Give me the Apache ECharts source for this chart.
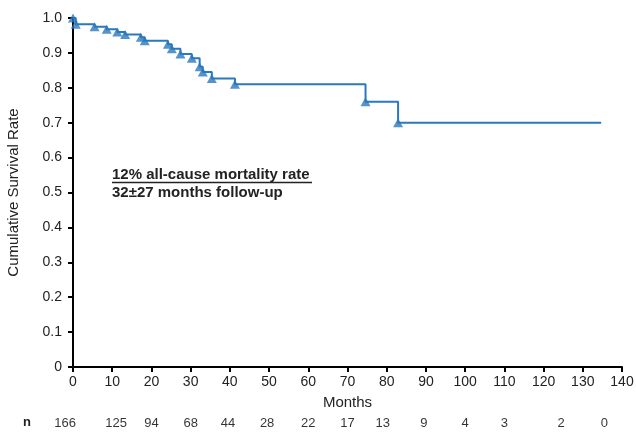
<!DOCTYPE html>
<html>
<head>
<meta charset="utf-8">
<script src="https://cdn.jsdelivr.net/npm/echarts@6/dist/echarts.min.js"></script>
<style>
  html, body { margin: 0; padding: 0; background: #fff; }
  #main { width: 636px; height: 434px; }
</style>
</head>
<body>
<div id="main"></div>
<script>
  /* survival curve: month of each step and survival after it */
  var stepMonths = [0, 0.7, 5.5, 8.6, 11.3, 13.3, 17.3, 18.3, 24.2, 25.2, 27.4, 30.3, 32.3, 33.1, 35.4, 41.3, 74.6, 82.9];
  var stepSurvival = [1.0, 0.982, 0.975, 0.968, 0.960, 0.953, 0.945, 0.935, 0.925, 0.912, 0.897, 0.885, 0.860, 0.845, 0.827, 0.810, 0.760, 0.700];
  var lastMonth = 134.7;

  /* number at risk */
  var riskMonths = [-2, 11, 20, 30, 39.5, 49.5, 60, 70, 79, 89.5, 100, 110, 124.5, 135.5];
  var riskCounts = [166, 125, 94, 68, 44, 28, 22, 17, 13, 9, 4, 3, 2, 0];

  var blue = '#2a78bd';
  var font = '"Liberation Sans", Arial, sans-serif';

  var lineData = stepMonths.map(function (m, i) { return [m, stepSurvival[i]]; });
  lineData.push([lastMonth, stepSurvival[stepSurvival.length - 1]]);
  var markData = stepMonths.map(function (m, i) { return [m, stepSurvival[i]]; });
  var riskData = riskMonths.map(function (m, i) { return [m, 0.5, riskCounts[i]]; });

  var chart = echarts.init(document.getElementById('main'));
  var option = {
    animation: false,
    grid: [
      { left: 73, right: 14, top: 18, bottom: 67, containLabel: false, outerBoundsMode: 'none' },
      { left: 73, right: 14, top: 418, height: 10, containLabel: false, outerBoundsMode: 'none' }
    ],
    xAxis: [{
      type: 'value',
      min: 0,
      max: 140,
      interval: 10,
      name: 'Months',
      nameLocation: 'middle',
      nameGap: 28,
      nameTextStyle: { fontFamily: font, fontSize: 15, color: '#222' },
      axisLine: { lineStyle: { color: '#000', width: 2 } },
      axisTick: { length: 5, lineStyle: { color: '#000', width: 2 } },
      axisLabel: { fontFamily: font, fontSize: 14, color: '#222', margin: 8 },
      splitLine: { show: false }
    }, {
      gridIndex: 1,
      type: 'value',
      min: 0,
      max: 140,
      show: false
    }],
    yAxis: [{
      type: 'value',
      min: 0,
      max: 1,
      interval: 0.1,
      name: 'Cumulative Survival Rate',
      nameLocation: 'middle',
      nameGap: 52,
      nameTextStyle: { fontFamily: font, fontSize: 15, color: '#222' },
      axisLine: { show: true, lineStyle: { color: '#000', width: 2 } },
      axisTick: { show: true, length: 5, lineStyle: { color: '#000', width: 2 } },
      axisLabel: {
        fontFamily: font, fontSize: 14, color: '#222', margin: 11,
        formatter: function (v) { return v === 0 ? '0' : v.toFixed(1); }
      },
      splitLine: { show: false }
    }, {
      gridIndex: 1,
      type: 'value',
      min: 0,
      max: 1,
      show: false
    }],
    series: [{
      type: 'line',
      step: 'end',
      data: lineData,
      symbol: 'none',
      lineStyle: { color: blue, width: 2 },
      z: 2
    }, {
      type: 'scatter',
      data: markData,
      symbol: 'triangle',
      symbolSize: [10, 9],
      itemStyle: { color: blue },
      clip: false,
      z: 3
    }, {
      type: 'scatter',
      xAxisIndex: 1,
      yAxisIndex: 1,
      data: riskData,
      symbol: 'circle',
      symbolSize: 1,
      itemStyle: { color: 'transparent' },
      clip: false,
      label: {
        show: true,
        position: 'inside',
        fontFamily: font,
        fontSize: 13,
        color: '#000',
        textBorderWidth: 0,
        formatter: function (p) { return String(p.value[2]); }
      }
    }],
    graphic: [{
      type: 'text',
      style: { x: 23, y: 416, text: 'n', font: 'bold 13px ' + font, fill: '#222', verticalAlign: 'top' }
    }, {
      type: 'text',
      style: { x: 112, y: 167.5, text: '12% all-cause mortality rate', font: 'bold 15px ' + font, fill: '#222', verticalAlign: 'top' }
    }, {
      type: 'line',
      shape: { x1: 112, y1: 182.5, x2: 312, y2: 182.5 },
      style: { stroke: '#222', lineWidth: 1.3 }
    }, {
      type: 'text',
      style: { x: 112, y: 185.5, text: '32\u00b127 months follow-up', font: 'bold 15px ' + font, fill: '#222', verticalAlign: 'top' }
    }]
  };
  chart.setOption(option);
</script>
</body>
</html>
